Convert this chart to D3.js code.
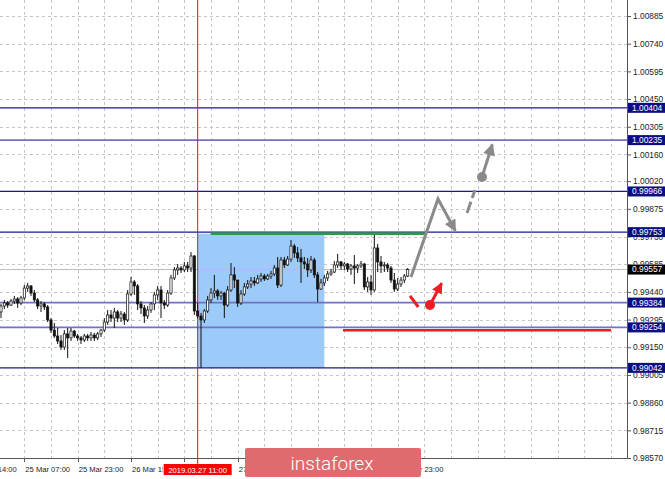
<!DOCTYPE html>
<html><head><meta charset="utf-8">
<script src="https://cdn.jsdelivr.net/npm/d3@7"></script>
<style>body{margin:0;background:#fff;overflow:hidden}svg{display:block}</style>
</head><body>
<svg id="c" width="665" height="479"></svg>
<script>
// ---- data (H1 candles) ----
const openP = [
0.99335,0.99366,0.99382,0.99371,0.99392,0.99403,0.99382,0.99408,0.99460,0.99471,
0.99434,0.99398,0.99366,0.99377,0.99361,0.99293,0.99240,0.99209,0.99183,0.99151,
0.99220,0.99199,0.99235,0.99209,0.99199,0.99188,0.99209,0.99199,0.99214,0.99199,
0.99220,0.99240,0.99282,0.99319,0.99303,0.99335,0.99303,0.99324,0.99293,0.99429,
0.99492,0.99471,0.99377,0.99356,0.99314,0.99345,0.99377,0.99424,0.99450,0.99382,
0.99371,0.99434,0.99513,0.99555,0.99565,0.99555,0.99576,0.99565,0.99628,0.99340,
0.99314,0.99293,0.99340,0.99398,0.99434,0.99445,0.99419,0.99434,0.99371,0.99450,
0.99529,0.99502,0.99382,0.99429,0.99466,0.99481,0.99497,0.99487,0.99508,0.99523,
0.99508,0.99523,0.99534,0.99565,0.99476,0.99607,0.99581,0.99612,0.99680,0.99644,
0.99618,0.99597,0.99586,0.99555,0.99607,0.99529,0.99455,0.99487,0.99513,0.99534,
0.99544,0.99581,0.99597,0.99576,0.99586,0.99560,0.99576,0.99565,0.99576,0.99586,
0.99466,0.99492,0.99450,0.99670,0.99597,0.99576,0.99581,0.99565,0.99502,0.99455,
0.99481,0.99502,0.99523];
const closeP = [
0.99366,0.99382,0.99371,0.99392,0.99403,0.99382,0.99408,0.99460,0.99471,0.99434,
0.99398,0.99366,0.99377,0.99361,0.99293,0.99240,0.99209,0.99183,0.99151,0.99220,
0.99199,0.99235,0.99209,0.99199,0.99188,0.99209,0.99199,0.99214,0.99199,0.99220,
0.99240,0.99282,0.99319,0.99303,0.99335,0.99303,0.99324,0.99293,0.99429,0.99492,
0.99471,0.99377,0.99356,0.99314,0.99345,0.99377,0.99424,0.99450,0.99382,0.99371,
0.99434,0.99513,0.99555,0.99565,0.99555,0.99576,0.99565,0.99628,0.99340,0.99314,
0.99293,0.99340,0.99398,0.99434,0.99445,0.99419,0.99434,0.99371,0.99450,0.99529,
0.99502,0.99382,0.99429,0.99466,0.99481,0.99497,0.99487,0.99508,0.99523,0.99508,
0.99523,0.99534,0.99565,0.99476,0.99607,0.99581,0.99612,0.99680,0.99644,0.99618,
0.99597,0.99586,0.99555,0.99607,0.99529,0.99455,0.99487,0.99513,0.99534,0.99544,
0.99581,0.99597,0.99576,0.99586,0.99560,0.99576,0.99565,0.99576,0.99586,0.99466,
0.99492,0.99450,0.99670,0.99597,0.99576,0.99581,0.99565,0.99502,0.99455,0.99481,
0.99502,0.99523,0.99557];
const highP = [
0.99377,0.99398,0.99392,0.99403,0.99419,0.99413,0.99419,0.99476,0.99487,0.99476,
0.99450,0.99408,0.99392,0.99387,0.99371,0.99303,0.99277,0.99251,0.99214,0.99240,
0.99251,0.99251,0.99240,0.99220,0.99209,0.99220,0.99220,0.99230,0.99225,0.99230,
0.99246,0.99303,0.99345,0.99345,0.99356,0.99345,0.99340,0.99335,0.99450,0.99518,
0.99502,0.99481,0.99392,0.99371,0.99366,0.99387,0.99440,0.99471,0.99471,0.99398,
0.99450,0.99529,0.99570,0.99586,0.99576,0.99597,0.99597,0.99649,0.99633,0.99382,
0.99330,0.99350,0.99419,0.99460,0.99529,0.99455,0.99445,0.99440,0.99471,0.99591,
0.99570,0.99502,0.99450,0.99487,0.99502,0.99518,0.99518,0.99529,0.99539,0.99534,
0.99534,0.99550,0.99581,0.99623,0.99623,0.99623,0.99628,0.99712,0.99691,0.99675,
0.99665,0.99623,0.99618,0.99628,0.99618,0.99544,0.99508,0.99529,0.99550,0.99560,
0.99602,0.99639,0.99602,0.99597,0.99591,0.99586,0.99633,0.99586,0.99602,0.99591,
0.99518,0.99529,0.99749,0.99691,0.99628,0.99597,0.99591,0.99576,0.99539,0.99513,
0.99518,0.99534,0.99565];
const lowP = [
0.99303,0.99350,0.99356,0.99366,0.99377,0.99356,0.99371,0.99398,0.99440,0.99419,
0.99387,0.99350,0.99335,0.99345,0.99282,0.99225,0.99199,0.99167,0.99136,0.99136,
0.99094,0.99183,0.99199,0.99183,0.99167,0.99178,0.99183,0.99183,0.99183,0.99188,
0.99204,0.99230,0.99267,0.99282,0.99251,0.99282,0.99282,0.99267,0.99282,0.99419,
0.99424,0.99345,0.99324,0.99277,0.99298,0.99330,0.99345,0.99398,0.99303,0.99350,
0.99361,0.99424,0.99502,0.99529,0.99539,0.99544,0.99544,0.99544,0.99319,0.99303,
0.99041,0.99277,0.99330,0.99382,0.99408,0.99398,0.99398,0.99303,0.99361,0.99440,
0.99460,0.99361,0.99371,0.99419,0.99455,0.99460,0.99471,0.99481,0.99492,0.99497,
0.99502,0.99508,0.99523,0.99460,0.99466,0.99565,0.99576,0.99597,0.99618,0.99597,
0.99487,0.99560,0.99518,0.99539,0.99513,0.99387,0.99450,0.99471,0.99497,0.99523,
0.99539,0.99565,0.99555,0.99555,0.99544,0.99529,0.99481,0.99539,0.99565,0.99450,
0.99440,0.99424,0.99440,0.99544,0.99539,0.99544,0.99544,0.99487,0.99440,0.99445,
0.99466,0.99487,0.99518];

const priceTicks = [1.00885,1.00740,1.00595,1.00450,1.00305,1.00160,1.00020,0.99875,
  0.99730,0.99585,0.99440,0.99295,0.99150,0.99005,0.98860,0.98715,0.98570];
const timeTickBars = [-9,7,23,39,55,71,87,103,119];
const timeTickLabels = ["22 Mar 14:00","25 Mar 07:00","25 Mar 23:00","26 Mar 15:00",
  "27 Mar 07:00","27 Mar 23:00","28 Mar 15:00","29 Mar 07:00","29 Mar 23:00"];
// labels fully hidden under the time badge / logo in the picture
const timeLabelShown = [true,true,true,true,false,true,false,false,true];

const levelPrices = [1.00404, 1.00235, 0.99966, 0.99753, 0.99384, 0.99254, 0.99042];
const levelKinds  = ["major","minor","major","major","minor","minor","major"];
const currentPrice = 0.99557;
const markerBar = 59, markerLabel = "2019.03.27 11:00";

const rectBars = [59, 97];
const rectPrices = [0.99745, 0.99042];
const greenLine = [[62.9, 0.99745], [127.8, 0.99745]];
const redLine = [[102.6, 0.99239], [183, 0.99239]];
const greyZig = [[123, 0.99518], [131.1, 0.99927], [136.3, 0.99760]];
const greyDash = [[139.8, 0.99853], [142.2, 0.99974]];
const greyDot = [144.3, 1.00042];
const greyArrowEnd = [147.4, 1.00212];
const redSeg = [[122.7, 0.99419], [125.2, 0.99361]];
const redDot = [128.7, 0.99371];
const redArrowEnd = [132.2, 0.99485];

// ---- scales ----
const x = d3.scaleLinear().domain([0, 183]).range([1, 611]);
const y = d3.scaleLinear().domain([0.98570, 1.00885]).range([458, 16]);
const plotR = 627, plotB = 458;

const svg = d3.select("#c");
const defs = svg.append("defs");
defs.append("clipPath").attr("id","plot").append("rect")
  .attr("x",0).attr("y",0).attr("width",plotR).attr("height",plotB);
const bclip = defs.append("clipPath").attr("id","bclip");
[[0,163],[231,245],[421,665]].forEach(r=>bclip.append("rect")
  .attr("x",r[0]).attr("y",plotB).attr("width",r[1]-r[0]).attr("height",479-plotB));
function mk(id, color, w, h){
  defs.append("marker").attr("id",id).attr("viewBox","0 0 10 10")
    .attr("refX",9).attr("refY",5).attr("markerUnits","userSpaceOnUse")
    .attr("markerWidth",w).attr("markerHeight",h).attr("orient","auto")
    .append("path").attr("d","M0,0 L10,5 L0,10 Z").attr("fill",color);
}
mk("ag","#8a8a8a",14,12);
mk("ar","#ee1c25",13,11);

const g = svg.append("g").attr("clip-path","url(#plot)");

// grid
const vBars = d3.range(-1, 184, 8);
g.selectAll(".vg").data(vBars).join("line")
  .attr("x1",d=>Math.round(x(d))+0.5).attr("x2",d=>Math.round(x(d))+0.5)
  .attr("y1",0).attr("y2",plotB)
  .attr("stroke","#c6c6c6").attr("stroke-dasharray","3,3").attr("stroke-width",1);
g.selectAll(".hg").data(priceTicks).join("line")
  .attr("x1",0).attr("x2",plotR)
  .attr("y1",d=>Math.round(y(d))+0.5).attr("y2",d=>Math.round(y(d))+0.5)
  .attr("stroke","#c6c6c6").attr("stroke-dasharray","3,3").attr("stroke-width",1);

// rectangle
g.append("rect")
  .attr("x",x(rectBars[0])).attr("width",x(rectBars[1])-x(rectBars[0]))
  .attr("y",y(rectPrices[0])).attr("height",y(rectPrices[1])-y(rectPrices[0]))
  .attr("fill","#9ccbfa");

// current price line
g.append("line").attr("x1",0).attr("x2",plotR)
  .attr("y1",y(currentPrice)).attr("y2",y(currentPrice))
  .attr("stroke","#bdbdbd").attr("stroke-width",1);

// levels
g.selectAll(".lv").data(levelPrices).join("line")
  .attr("x1",0).attr("x2",plotR)
  .attr("y1",d=>y(d)).attr("y2",d=>y(d))
  .attr("stroke",(d,i)=>levelKinds[i]==="major"?"#1a1a8c":"#7272c4")
  .attr("stroke-width",(d,i)=>levelKinds[i]==="major"?1.2:1.8);

// marker vertical line
g.append("line").attr("x1",x(markerBar)).attr("x2",x(markerBar))
  .attr("y1",0).attr("y2",plotB).attr("stroke","#e8141c").attr("stroke-width",1);

// candles
const idx = d3.range(openP.length);
g.selectAll(".wk").data(idx).join("line")
  .attr("x1",i=>x(i)).attr("x2",i=>x(i))
  .attr("y1",i=>y(highP[i])).attr("y2",i=>y(lowP[i]))
  .attr("stroke","#111").attr("stroke-width",1);
g.selectAll(".bd").data(idx).join("rect")
  .attr("x",i=>x(i)-1.1).attr("width",2.2)
  .attr("y",i=>y(Math.max(openP[i],closeP[i])))
  .attr("height",i=>Math.max(0.8, Math.abs(y(openP[i])-y(closeP[i]))))
  .attr("fill",i=>closeP[i]>=openP[i]?"#fff":"#111")
  .attr("stroke","#111").attr("stroke-width",0.7);

// green & red horizontal segments
const ln = d3.line().x(d=>x(d[0])).y(d=>y(d[1]));
g.append("path").attr("d",ln(greenLine)).attr("stroke","#22a33a").attr("stroke-width",2.5).attr("fill","none");
g.append("path").attr("d",ln(redLine)).attr("stroke","#ee1c25").attr("stroke-width",2.5).attr("fill","none");

// grey forecast
g.append("path").attr("d",ln(greyZig)).attr("stroke","#8a8a8a").attr("stroke-width",3)
  .attr("fill","none").attr("stroke-linejoin","miter").attr("marker-end","url(#ag)");
g.append("path").attr("d",ln(greyDash)).attr("stroke","#8a8a8a").attr("stroke-width",3)
  .attr("fill","none").attr("stroke-dasharray","12,4");
g.append("circle").attr("cx",x(greyDot[0])).attr("cy",y(greyDot[1])).attr("r",5).attr("fill","#8a8a8a");
g.append("path").attr("d",ln([greyDot,greyArrowEnd])).attr("stroke","#8a8a8a").attr("stroke-width",3)
  .attr("fill","none").attr("marker-end","url(#ag)");

// red forecast
g.append("path").attr("d",ln(redSeg)).attr("stroke","#ee1c25").attr("stroke-width",3).attr("fill","none");
g.append("circle").attr("cx",x(redDot[0])).attr("cy",y(redDot[1])).attr("r",5).attr("fill","#ee1c25");
g.append("path").attr("d",ln([redDot,redArrowEnd])).attr("stroke","#ee1c25").attr("stroke-width",3)
  .attr("fill","none").attr("marker-end","url(#ar)");

// axes frame
svg.append("line").attr("x1",plotR+0.5).attr("x2",plotR+0.5).attr("y1",0).attr("y2",plotB+0.5)
  .attr("stroke","#555").attr("stroke-width",1);
svg.append("line").attr("x1",0).attr("x2",plotR+0.5).attr("y1",plotB+0.5).attr("y2",plotB+0.5)
  .attr("stroke","#555").attr("stroke-width",1);

// level label boxes (y extents) -> clip for the axis labels they cover
const allLabels = levelPrices.map(p=>({p, bg:"#0c0c84"})).concat([{p:currentPrice, bg:"#000"}]);
const boxes = allLabels.map(d=>[y(d.p)-5, y(d.p)+5]).sort((a,b)=>a[0]-b[0]);
const aclip = defs.append("clipPath").attr("id","aclip");
let yTop = 0;
boxes.forEach(b=>{
  if (b[0] > yTop) aclip.append("rect").attr("x",plotR).attr("y",yTop)
    .attr("width",665-plotR).attr("height",b[0]-yTop);
  yTop = Math.max(yTop, b[1]);
});
aclip.append("rect").attr("x",plotR).attr("y",yTop).attr("width",665-plotR).attr("height",479-yTop);

// right axis via d3 (inside clipped wrapper)
const yAxis = d3.axisRight(y).tickValues(priceTicks).tickSize(4).tickPadding(2)
  .tickFormat(d3.format(".5f"));
const ya = svg.append("g").attr("clip-path","url(#aclip)")
  .append("g").attr("transform",`translate(${plotR},0)`).call(yAxis);
ya.select(".domain").remove();
ya.selectAll("line").attr("stroke","#555");
ya.selectAll("text").attr("font-family","Liberation Sans, Arial, sans-serif")
  .attr("font-size","8.4px").attr("fill","#222");

// level labels
const lab = svg.append("g");
lab.selectAll("rect").data(allLabels).join("rect")
  .attr("x",plotR+1).attr("width",665-plotR).attr("y",d=>y(d.p)-5).attr("height",10)
  .attr("fill",d=>d.bg);
lab.selectAll("text").data(allLabels).join("text")
  .attr("x",plotR+5).attr("y",d=>y(d.p)).attr("dy","0.35em")
  .attr("font-family","Liberation Sans, Arial, sans-serif").attr("font-size","8.4px")
  .attr("fill","#fff").text(d=>d3.format(".5f")(d.p));

// bottom axis ticks and labels
const xa = svg.append("g");
xa.selectAll("line").data(timeTickBars).join("line")
  .attr("x1",d=>Math.round(x(d))+0.5).attr("x2",d=>Math.round(x(d))+0.5)
  .attr("y1",plotB).attr("y2",plotB+4).attr("stroke","#555");
const shownBars = timeTickBars.filter((d,i)=>timeLabelShown[i]);
const shownText = timeTickLabels.filter((d,i)=>timeLabelShown[i]);
xa.append("g").attr("clip-path","url(#bclip)")
  .selectAll("text").data(shownBars).join("text")
  .attr("x",d=>x(d)+1).attr("y",plotB+14)
  .attr("font-family","Liberation Sans, Arial, sans-serif").attr("font-size","7.6px")
  .attr("fill","#222").text((d,i)=>shownText[i]);

// marker time label
const mx = x(markerBar);
svg.append("line").attr("x1",mx).attr("x2",mx).attr("y1",plotB).attr("y2",466)
  .attr("stroke","#e8141c");
svg.append("rect").attr("x",mx-34).attr("y",464).attr("width",68).attr("height",11).attr("fill","#ff0000");
svg.append("text").attr("x",mx).attr("y",472.5).attr("text-anchor","middle")
  .attr("font-family","Liberation Sans, Arial, sans-serif").attr("font-size","7.6px")
  .attr("fill","#fff").text(markerLabel);

// logo
svg.append("rect").attr("x",245).attr("y",448).attr("width",176).attr("height",29)
  .attr("rx",2).attr("fill","#e06b6e");
svg.append("text").attr("x",332).attr("y",469.5).attr("text-anchor","middle")
  .attr("font-family","Roboto, sans-serif").attr("font-weight",300).attr("font-size","19px")
  .attr("fill","#fff").text("instaforex");
</script>
</body></html>
